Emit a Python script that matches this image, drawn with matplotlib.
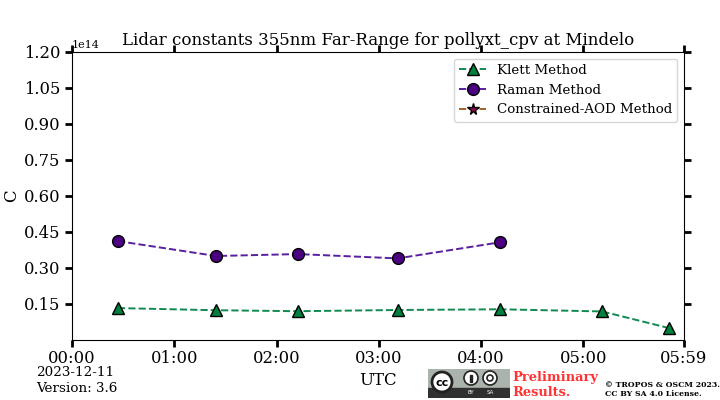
import numpy as np
import matplotlib
matplotlib.use('Agg')
import matplotlib.pyplot as plt
from matplotlib.patches import Rectangle, Circle

plt.rcParams['font.family'] = 'DejaVu Serif'

# minutes after midnight
klett_time = [27, 84.5, 132.5, 191, 251, 311, 350]
klett_c = [1.33e13, 1.24e13, 1.20e13, 1.25e13, 1.28e13, 1.19e13, 0.50e13]
raman_time = [27, 84.5, 132.5, 191, 251]
raman_c = [4.12e13, 3.50e13, 3.58e13, 3.40e13, 4.07e13]
aod_time = [27]
aod_c = [np.nan]

x_ticks = [0, 60, 120, 180, 240, 300, 359]
x_labels = ['00:00', '01:00', '02:00', '03:00', '04:00', '05:00', '05:59']
y_ticks = [0.15e14, 0.30e14, 0.45e14, 0.60e14, 0.75e14, 0.90e14, 1.05e14, 1.20e14]

fig = plt.figure(figsize=(7.2, 4.0), dpi=100)
ax = fig.add_axes([72 / 720, 1 - 340 / 400, 612 / 720, 288 / 400])

ax.plot(klett_time, klett_c, '--', color='#108a50', marker='^', ms=8.5, mfc='#00803f', mec='k',
        mew=1, lw=1.4, label='Klett Method')
ax.plot(raman_time, raman_c, '--', color='#5a1ea0', marker='o', ms=8.5, mfc='#4b0082', mec='k',
        mew=1, lw=1.4, label='Raman Method')
ax.plot(aod_time, aod_c, '--', color='#a0622a', marker='*', ms=8.5, mfc='#8b0a50', mec='k',
        mew=1, lw=1.4, label='Constrained-AOD Method')

ax.set_xlim(0, 359)
ax.set_ylim(0, 1.2e14)
ax.set_xticks(x_ticks)
ax.set_xticklabels(x_labels)
ax.set_yticks(y_ticks)
ax.tick_params(axis='both', labelsize=11.8, width=2, length=5, pad=3.5, direction='out', top=True, right=True)
ax.tick_params(axis='x', pad=2)
ax.yaxis.get_offset_text().set_fontsize(8)

ax.set_xlabel('UTC', fontsize=12)
ax.xaxis.set_label_coords(306 / 612, -32 / 288)
ax.set_ylabel('C', fontsize=12)
ax.yaxis.set_label_coords(-52 / 612, 0.5)
ax.set_title('Lidar constants 355nm Far-Range for pollyxt_cpv at Mindelo', fontsize=12, pad=5)
ax.legend(loc='upper right', fontsize=9.6)

fig.text(36 / 720, 1 - 372 / 400, '2023-12-11', fontsize=9.7, va='center')
fig.text(36 / 720, 1 - 388 / 400, 'Version: 3.6', fontsize=9.7, va='center')

# licence badge drawn in pixel coordinates
badge = fig.add_axes([428 / 720, 2 / 400, 82 / 720, 29 / 400])
badge.set_xlim(0, 82)
badge.set_ylim(29, 0)
badge.axis('off')
badge.add_patch(Rectangle((0, 0), 81, 28, color='#aab3ac'))
badge.add_patch(Rectangle((0, 19), 81, 9, color='#303030'))
badge.add_patch(Circle((14, 13), 10, fc='white', ec='#222222', lw=2))
badge.text(14, 13.5, 'cc', fontsize=8, fontweight='bold', ha='center', va='center', family='DejaVu Sans')
badge.add_patch(Circle((43, 9), 7, fc='white', ec='#222222', lw=1.2))
badge.add_patch(Circle((62, 9), 7, fc='white', ec='#222222', lw=1.2))
badge.add_patch(Rectangle((42, 6), 2, 7, color='#222222'))
badge.add_patch(Circle((62, 9), 3, fc='white', ec='#222222', lw=1.2))
badge.text(43, 24, 'BY', fontsize=4, color='white', ha='center', va='center', family='DejaVu Sans')
badge.text(62, 24, 'SA', fontsize=4, color='white', ha='center', va='center', family='DejaVu Sans')

fig.text(512 / 720, 1 - 377 / 400, 'Preliminary', fontsize=9.4, fontweight='bold', color='#ff3333', va='center')
fig.text(512 / 720, 1 - 392 / 400, 'Results.', fontsize=9.4, fontweight='bold', color='#ff3333', va='center')
fig.text(605 / 720, 1 - 385 / 400, '© TROPOS & OSCM 2023.', fontsize=5.6, fontweight='bold', va='center')
fig.text(605 / 720, 1 - 394 / 400, 'CC BY SA 4.0 License.', fontsize=5.6, fontweight='bold', va='center')

fig.savefig('out.png', dpi=100)
